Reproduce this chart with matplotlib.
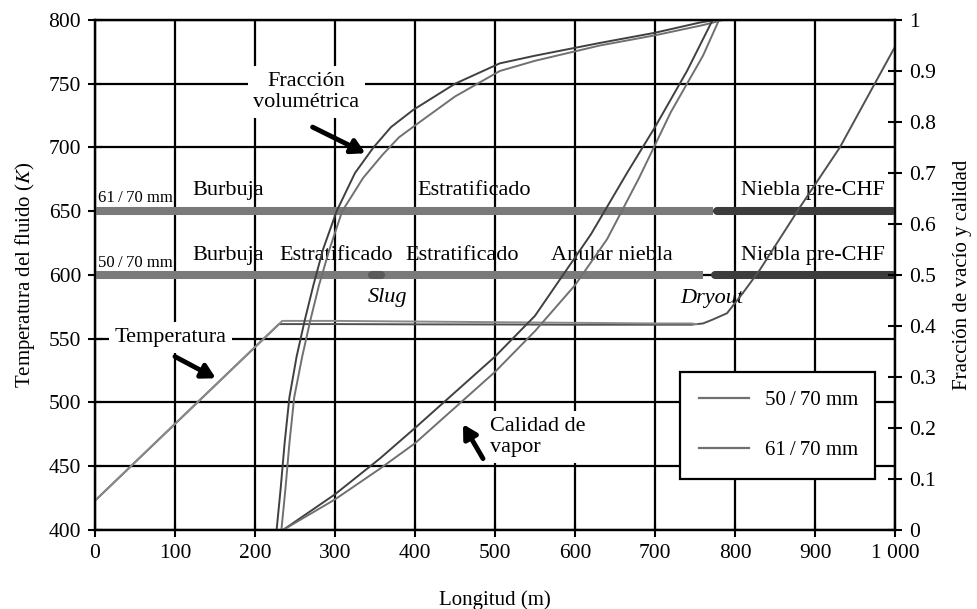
import matplotlib
matplotlib.use("Agg")
import matplotlib.pyplot as plt
from matplotlib.lines import Line2D

plt.rcParams['font.family'] = ['Liberation Serif', 'DejaVu Serif']
plt.rcParams['mathtext.fontset'] = 'stix'

# ---------------- data ----------------
# Temperature (K) vs length (m)
temp50_x = [0, 230, 300, 400, 500, 600, 700, 745, 760, 772, 790, 810, 831, 881, 931, 972, 1000]
temp50_y = [423, 561.5, 561.5, 561.3, 561.2, 561, 561, 561, 562, 565, 570, 586, 604, 653, 700, 747, 779]
temp61_x = [0, 234, 300, 400, 500, 600, 700, 745, 752]
temp61_y = [423, 564, 564, 563.5, 563, 562.5, 562, 562, 561.5]

# Void fraction (right axis)
void50_x = [227, 232, 237, 243, 252, 262, 273, 285, 302, 325, 348, 370, 398, 450, 506, 550, 631, 700, 756, 775]
void50_y = [0, 0.08, 0.17, 0.26, 0.34, 0.41, 0.48, 0.55, 0.625, 0.70, 0.75, 0.79, 0.824, 0.875, 0.915, 0.93, 0.955, 0.975, 0.995, 1.0]
void61_x = [233, 238, 243, 249, 259, 269, 280, 293, 309, 335, 359, 380, 406, 450, 506, 550, 631, 700, 760, 785]
void61_y = [0, 0.08, 0.17, 0.26, 0.34, 0.41, 0.48, 0.55, 0.625, 0.69, 0.735, 0.77, 0.80, 0.85, 0.90, 0.92, 0.95, 0.97, 0.99, 1.0]

# Vapour quality (right axis)
qual50_x = [235, 300, 356, 400, 450, 500, 550, 585, 620, 665, 700, 740, 772]
qual50_y = [0, 0.07, 0.14, 0.20, 0.27, 0.34, 0.42, 0.50, 0.58, 0.70, 0.79, 0.90, 1.0]
qual61_x = [235, 300, 356, 400, 450, 500, 550, 600, 640, 680, 720, 760, 780]
qual61_y = [0, 0.06, 0.12, 0.17, 0.24, 0.31, 0.39, 0.48, 0.57, 0.69, 0.82, 0.93, 1.0]

# Flow regime bands (x-extents in m)
band61_level = 650
band61_light = (0, 773)
band61_dark = (777, 997)
band50_level = 600
band50_light = (0, 760)
band50_slug = (346, 358)
band50_dark = (775, 997)

regimes61 = [("Burbuja", 166), ("Estratificado", 474), ("Niebla pre-CHF", 897)]
regimes50 = [("Burbuja", 166), ("Estratificado", 301), ("Estratificado", 459),
             ("Anular niebla", 646), ("Niebla pre-CHF", 897)]

x_ticks = [0, 100, 200, 300, 400, 500, 600, 700, 800, 900, 1000]
x_ticklabels = ["0", "100", "200", "300", "400", "500", "600", "700", "800", "900", "1 000"]
y_ticks = [400, 450, 500, 550, 600, 650, 700, 750, 800]
y2_ticks = [0, 0.1, 0.2, 0.3, 0.4, 0.5, 0.6, 0.7, 0.8, 0.9, 1.0]
y2_ticklabels = ["0", "0.1", "0.2", "0.3", "0.4", "0.5", "0.6", "0.7", "0.8", "0.9", "1"]

TS = 16      # annotation text size
TK = 15.5    # tick label size

# ---------------- figure ----------------
fig = plt.figure(figsize=(9.77, 6.09), dpi=100)
ax = fig.add_axes([95/977, 1-530/609, 800/977, 510/609])
ax.set_xlim(0, 1000)
ax.set_ylim(400, 800)
ax.set_xticks(x_ticks)
ax.set_xticklabels(x_ticklabels)
ax.set_yticks(y_ticks)
ax.grid(True, color='black', linewidth=1.6)
ax.set_axisbelow(True)
for s in ax.spines.values():
    s.set_linewidth(1.6)
ax.tick_params(direction='inout', length=10, width=1.5, labelsize=TK, pad=5)

light = '#7a7a7a'
dark = '#3c3c3c'
bw = 5.8
ax.plot(band61_light, [band61_level]*2, color=light, lw=bw, solid_capstyle='butt', zorder=3)
ax.plot(band61_dark, [band61_level]*2, color=dark, lw=bw, solid_capstyle='round', zorder=3)
ax.plot(band50_light, [band50_level]*2, color=light, lw=bw, solid_capstyle='butt', zorder=3)
ax.plot(band50_slug, [band50_level]*2, color='#5a5a5a', lw=bw, solid_capstyle='round', zorder=3)
ax.plot(band50_dark, [band50_level]*2, color=dark, lw=bw, solid_capstyle='round', zorder=3)

for name, xc in regimes61:
    ax.text(xc, 662.7, name, ha='center', va='baseline', fontsize=TS, zorder=4)
for name, xc in regimes50:
    ax.text(xc, 611.8, name, ha='center', va='baseline', fontsize=TS, zorder=4)
ax.text(4, 657, "61\u2009/\u200970 mm", ha='left', va='baseline', fontsize=12, zorder=4)
ax.text(4, 606, "50\u2009/\u200970 mm", ha='left', va='baseline', fontsize=12, zorder=4)
ax.text(366, 579, "Slug", ha='center', va='baseline', fontsize=TS, style='italic', zorder=4)
ax.text(771, 578, "Dryout", ha='center', va='baseline', fontsize=TS, style='italic', zorder=4)

ax.plot(temp50_x, temp50_y, color='#505050', lw=1.4, zorder=5)
ax.plot(temp61_x, temp61_y, color='#8a8a8a', lw=1.4, zorder=5)

ax.set_xlabel("Longitud (m)", fontsize=15, labelpad=20)
ax.set_ylabel("Temperatura del fluido ($\\mathit{K}$)", fontsize=15, labelpad=8)

ax2 = ax.twinx()
ax2.set_ylim(0, 1)
ax2.set_yticks(y2_ticks)
ax2.set_yticklabels(y2_ticklabels)
ax2.tick_params(direction='inout', length=10, width=1.5, labelsize=TK, pad=5)
for s in ax2.spines.values():
    s.set_linewidth(1.6)
ax2.set_ylabel("Fracción de vacío y calidad", fontsize=15, labelpad=12)

ax2.plot(void50_x, void50_y, color='#404040', lw=1.4)
ax2.plot(void61_x, void61_y, color='#707070', lw=1.4)
ax2.plot(qual50_x, qual50_y, color='#404040', lw=1.4)
ax2.plot(qual61_x, qual61_y, color='#707070', lw=1.4)

bbox = dict(facecolor='white', edgecolor='none', pad=4)
arrow = dict(arrowstyle='-|>,head_length=0.8,head_width=0.45', color='black', lw=3.5,
             shrinkA=0, shrinkB=0)
ax2.text(264, 743.5, "Fracción\nvolumétrica", ha='center', va='center', fontsize=TS,
         linespacing=1.15, bbox=bbox, transform=ax.transData)
ax2.annotate("", xy=(338, 695.5), xytext=(272, 716), xycoords=ax.transData,
             textcoords=ax.transData, arrowprops=arrow)
ax2.text(94, 551, "Temperatura", ha='center', va='center', fontsize=TS, bbox=bbox,
         transform=ax.transData)
ax2.annotate("", xy=(151, 519), xytext=(100, 536), xycoords=ax.transData,
             textcoords=ax.transData, arrowprops=arrow)
ax2.text(494, 473, "Calidad de\nvapor", ha='left', va='center', fontsize=TS, linespacing=1.15,
         bbox=bbox, transform=ax.transData)
ax2.annotate("", xy=(460, 483), xytext=(485, 456), xycoords=ax.transData,
             textcoords=ax.transData, arrowprops=arrow)

handles = [Line2D([], [], color='#707070', lw=1.6), Line2D([], [], color='#707070', lw=1.6)]
leg = ax2.legend(handles, ["50\u2009/\u200970 mm", "61\u2009/\u200970 mm"], loc='lower left',
                 bbox_to_anchor=(680/977, 1-479/609, 195/977, 106/609),
                 bbox_transform=fig.transFigure, mode='expand',
                 fontsize=15, labelspacing=1.45, handlelength=2.4, handletextpad=0.8,
                 borderpad=0.9, fancybox=False, framealpha=1, borderaxespad=0)
leg.get_frame().set_edgecolor('black')
leg.get_frame().set_linewidth(1.6)
leg.set_zorder(10)

fig.savefig("out.png", dpi=100)
